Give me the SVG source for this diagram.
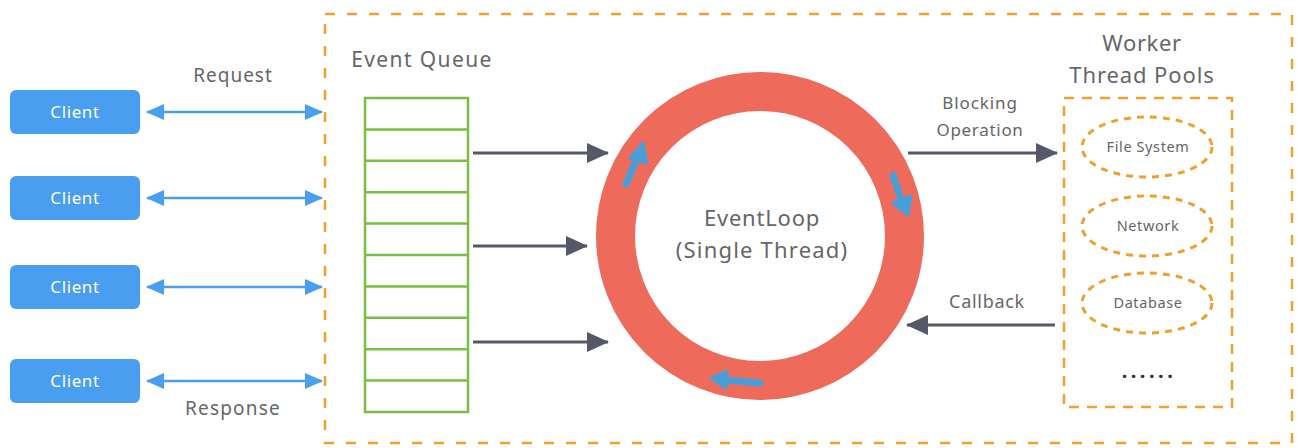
<svg xmlns="http://www.w3.org/2000/svg" width="1297" height="448" viewBox="0 0 1297 448">
<style>
.t{font-family:"Noto Sans","Liberation Sans",sans-serif;fill:#666;text-anchor:middle}
.client rect{fill:#4a9ef0}
.client text{font-family:"Noto Sans","Liberation Sans",sans-serif;fill:#fff;font-size:17px;letter-spacing:0.6px;text-anchor:middle}
.blue{stroke:#4a9ef0;stroke-width:2.5;fill:none}
.gray{stroke:#565868;stroke-width:3;fill:none}
.orange{stroke:#f0a02c;stroke-width:2.5;fill:none}
.q{stroke:#77c043;stroke-width:2.5;fill:none}
.ell{stroke:#f0a02c;stroke-width:3;fill:none;stroke-dasharray:7 6}
.ring{fill:none;stroke:#ee6b5b;stroke-width:39}
.barrow{stroke:#4a9ed8;stroke-width:7;fill:none;stroke-linecap:round}
</style>
<defs>
<marker id="bh" viewBox="0 0 18 16" refX="17" refY="8" markerWidth="18" markerHeight="16" markerUnits="userSpaceOnUse" orient="auto-start-reverse">
<path d="M0,0 L18,8 L0,16 Z" fill="#4a9ef0"/>
</marker>
<marker id="gh" viewBox="0 0 22 20" refX="21" refY="10" markerWidth="22" markerHeight="20" markerUnits="userSpaceOnUse" orient="auto">
<path d="M0,0 L22,10 L0,20 Z" fill="#565868"/>
</marker>
</defs>

<g id="container">
<rect x="325" y="14" width="967" height="429" class="orange" stroke-dasharray="10 12"/>
</g>

<g id="clients">
<g id="client1" class="client"><rect x="10" y="90" width="130" height="44" rx="6"/><text x="75" y="118">Client</text></g>
<g id="client2" class="client"><rect x="10" y="176" width="130" height="44" rx="6"/><text x="75" y="204">Client</text></g>
<g id="client3" class="client"><rect x="10" y="265" width="130" height="44" rx="6"/><text x="75" y="293">Client</text></g>
<g id="client4" class="client"><rect x="10" y="359" width="130" height="44" rx="6"/><text x="75" y="387">Client</text></g>
</g>

<g id="labels">
<text class="t" x="233" y="82" font-size="19" letter-spacing="1">Request</text>
<text class="t" x="233" y="415" font-size="19" letter-spacing="1.2">Response</text>
<text class="t" x="422" y="67" font-size="21" letter-spacing="1.4">Event Queue</text>
<text class="t" x="980" y="109" font-size="17" letter-spacing="0.9">Blocking</text>
<text class="t" x="980" y="136" font-size="17" letter-spacing="0.7">Operation</text>
<text class="t" x="987" y="308" font-size="18" letter-spacing="0.7">Callback</text>
<text class="t" x="1142" y="51" font-size="22" letter-spacing="0.6">Worker</text>
<text class="t" x="1142" y="83" font-size="22" letter-spacing="0.9">Thread Pools</text>
</g>

<g id="event-queue">
<rect x="365" y="98" width="103" height="314" class="q"/>
<path class="q" d="M365,129.4H468M365,160.8H468M365,192.2H468M365,223.6H468M365,255H468M365,286.4H468M365,317.8H468M365,349.2H468M365,380.6H468"/>
</g>

<g id="eventloop">
<circle cx="760" cy="236" r="144.5" class="ring"/>
<path class="barrow" d="M626,184 L638,156"/>
<path d="M630,158 L643,143 L647,163 Z" fill="#4a9ed8" stroke="#4a9ed8" stroke-width="3" stroke-linejoin="round"/>
<path class="barrow" d="M893,175 L902,203"/>
<path d="M893,203 L908,215 L911,196 Z" fill="#4a9ed8" stroke="#4a9ed8" stroke-width="3" stroke-linejoin="round"/>
<path class="barrow" d="M760,383 L725,380"/>
<path d="M727,371 L711,378 L726,388 Z" fill="#4a9ed8" stroke="#4a9ed8" stroke-width="3" stroke-linejoin="round"/>
<text class="t" x="762" y="226" font-size="22" letter-spacing="0.8">EventLoop</text>
<text class="t" x="762" y="258" font-size="22" letter-spacing="1.2">(Single Thread)</text>
</g>

<g id="worker-pool">
<rect x="1064" y="98" width="168" height="309" class="orange" stroke-width="3" stroke-dasharray="10 8"/>
<g id="file-system"><ellipse cx="1147" cy="147" rx="65" ry="30" class="ell"/><text class="t" x="1148" y="152" font-size="14.5" letter-spacing="0.6">File System</text></g>
<g id="network"><ellipse cx="1147" cy="226" rx="65" ry="30" class="ell"/><text class="t" x="1148" y="231" font-size="14.5" letter-spacing="0.6">Network</text></g>
<g id="database"><ellipse cx="1147" cy="303" rx="65" ry="30" class="ell"/><text class="t" x="1148" y="308" font-size="14.5" letter-spacing="0.6">Database</text></g>
<text x="1149" y="378" font-family="Noto Sans, sans-serif" font-size="20" font-weight="bold" fill="#333" text-anchor="middle" letter-spacing="3.5">......</text>
</g>

<g id="connectors">
<line x1="147" y1="112" x2="322" y2="112" class="blue" marker-start="url(#bh)" marker-end="url(#bh)"/>
<line x1="147" y1="198" x2="322" y2="198" class="blue" marker-start="url(#bh)" marker-end="url(#bh)"/>
<line x1="147" y1="287" x2="322" y2="287" class="blue" marker-start="url(#bh)" marker-end="url(#bh)"/>
<line x1="147" y1="381" x2="322" y2="381" class="blue" marker-start="url(#bh)" marker-end="url(#bh)"/>
<line x1="473" y1="153" x2="608" y2="153" class="gray" marker-end="url(#gh)"/>
<line x1="473" y1="246" x2="587" y2="246" class="gray" marker-end="url(#gh)"/>
<line x1="473" y1="342" x2="608" y2="342" class="gray" marker-end="url(#gh)"/>
<line x1="908" y1="153" x2="1057" y2="153" class="gray" marker-end="url(#gh)"/>
<line x1="1055" y1="325" x2="907" y2="325" class="gray" marker-end="url(#gh)"/>
</g>
</svg>
